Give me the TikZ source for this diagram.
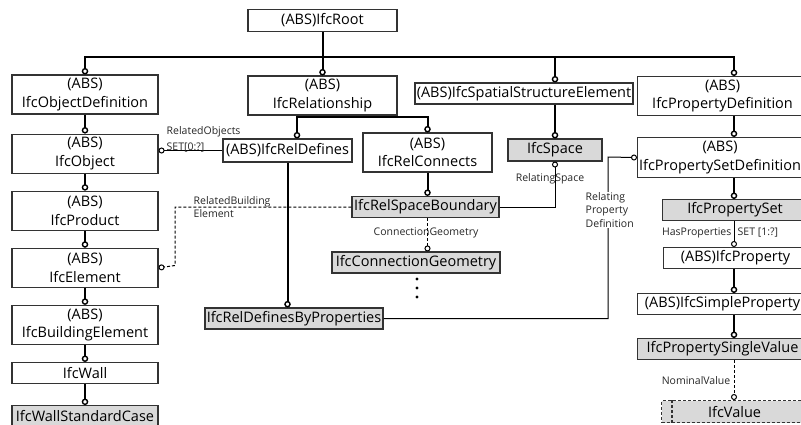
\documentclass[tikz,border=0pt]{standalone}
\usepackage{fontspec}
\setmainfont{Open Sans}
\usetikzlibrary{positioning,arrows.meta}

\begin{document}
\begin{tikzpicture}[x=1bp, y=-1bp, node distance=17bp,
    entity/.style={draw=black!80, line width=1.1bp, inner sep=1bp, align=center,
      font={\fontsize{14.5bp}{18.5bp}\selectfont}, minimum height=21bp},
    twoline/.style={entity, minimum height=39bp},
    leftcol/.style={minimum width=146bp},
    concrete/.style={fill=black!15},
    subtype/.style={line width=2bp, -{Circle[open,length=6.5bp,width=6.5bp,line width=1.4bp]}},
    attrib/.style={line width=1bp, -{Circle[open,length=6bp,width=6bp,line width=1bp]}},
    optional/.style={attrib, dash pattern=on 3bp off 2bp},
    role/.style={font={\fontsize{10.5bp}{13.5bp}\selectfont}, text=black!85, inner sep=0.5bp, align=left}]

    \useasboundingbox (0,0) rectangle (801,424);
    \clip (0,0) rectangle (801,424);

    % entities
    \node (root) [entity, minimum width=149bp, minimum height=22bp] at (322.5,20.5) {(ABS)IfcRoot};
    \node (objectDefinition) [twoline, leftcol] at (85,94.5) {(ABS)\\IfcObjectDefinition};
    \node (object) [twoline, leftcol, below=19bp of objectDefinition] {(ABS)\\IfcObject};
    \node (product) [twoline, leftcol, below=of object] {(ABS)\\IfcProduct};
    \node (element) [twoline, leftcol, below=of product] {(ABS)\\IfcElement};
    \node (buildingElement) [twoline, leftcol, below=of element] {(ABS)\\IfcBuildingElement};
    \node (wall) [entity, leftcol, below=of buildingElement] {IfcWall};
    \node (wallStandardCase) [entity, leftcol, concrete, below=21bp of wall] {IfcWallStandardCase};

    \node (relationship) [twoline, minimum width=149bp] at (322.5,95.5) {(ABS)\\IfcRelationship};
    \node (relDefines) [entity, minimum width=129bp, minimum height=23bp] at (287.5,150.5) {(ABS)IfcRelDefines};
    \node (relConnects) [twoline, minimum width=129bp] at (427.5,152.5) {(ABS)\\IfcRelConnects};
    \node (relSpaceBoundary) [entity, concrete, minimum width=147bp] at (425.5,207) {IfcRelSpaceBoundary};
    \node (connectionGeometry) [entity, concrete, minimum width=168bp] at (416,262.5) {IfcConnectionGeometry};
    \node (relDefinesByProperties) [entity, concrete, minimum width=178bp] at (294,318.5) {IfcRelDefinesByProperties};

    \node (spatialStructure) [entity, minimum width=218bp] at (524,93.5) {(ABS)IfcSpatialStructureElement};
    \node (space) [entity, concrete, minimum width=94bp, minimum height=22bp] at (555,150) {IfcSpace};

    \node (propertyDefinition) [twoline, anchor=north west, minimum width=170bp] at (637,76) {(ABS)\\IfcPropertyDefinition};
    \node (propertySetDefinition) [twoline, anchor=north west, minimum width=165bp, minimum height=40bp] at (637,137) {(ABS)\\IfcPropertySetDefinition};
    \node (propertySet) [entity, concrete, anchor=north west, minimum width=145bp] at (662,199) {IfcPropertySet};
    \node (property) [entity, anchor=north west, minimum width=144bp] at (663,247) {(ABS)IfcProperty};
    \node (simpleProperty) [entity, anchor=north west, minimum width=170bp] at (637,293) {(ABS)IfcSimpleProperty};
    \node (propertySingleValue) [entity, concrete, anchor=north west, minimum width=170bp] at (637,338) {IfcPropertySingleValue};
    \node (value) [entity, concrete, dash pattern=on 3bp off 2bp, anchor=north west, minimum width=146bp, minimum height=22bp] at (661,400) {IfcValue};
    \draw[draw=black!80, line width=1.1bp, dash pattern=on 3bp off 2bp]
      ([xshift=11bp]value.north west) -- ([xshift=11bp]value.south west);

    \coordinate (bus) at (0,57);
    \coordinate (colR) at (734,0);
    \coordinate (relSplit) at (297,117);
    \coordinate (elemBend) at (175,265.5);
    \coordinate (propBend) at (608,157);

    % subtypes
    \draw[line width=2bp] (root.south) -- (root.south |- bus);
    \draw[subtype] (colR |- bus) -- (objectDefinition.north |- bus) -- (objectDefinition);
    \draw[subtype] (objectDefinition.north |- bus) -- (colR |- bus) -- (colR |- propertyDefinition.north);
    \draw[subtype] (root.south |- bus) -- (relationship);
    \draw[subtype] (space |- bus) -- (space |- spatialStructure.north);

    \draw[subtype] (objectDefinition) -- (object);
    \draw[subtype] (object) -- (product);
    \draw[subtype] (product) -- (element);
    \draw[subtype] (element) -- (buildingElement);
    \draw[subtype] (buildingElement) -- (wall);
    \draw[subtype] (wall) -- (wallStandardCase);

    \draw[subtype] (relationship.south -| relSplit) -- (relDefines.north -| relSplit);
    \draw[subtype] (relationship.south -| relSplit) -- (relSplit) -| (relConnects.north);
    \draw[subtype] (relConnects.south) -- (relConnects.south |- relSpaceBoundary.north);
    \draw[subtype] (relDefines.south) -- (relDefines.south |- relDefinesByProperties.north);
    \draw[subtype] (spatialStructure.south -| space) -- (space);

    \draw[subtype] (colR |- propertyDefinition.south) -- (colR |- propertySetDefinition.north);
    \draw[subtype] (colR |- propertySetDefinition.south) -- (colR |- propertySet.north);
    \draw[subtype] (colR |- property.south) -- (colR |- simpleProperty.north);
    \draw[subtype] (colR |- simpleProperty.south) -- (colR |- propertySingleValue.north);

    % attributes
    \draw[attrib] (relDefines.west) -- (relDefines.west -| object.east);
    \node (relatedObjects) [role, anchor=west] at (166,139) {RelatedObjects\\[2.5bp]SET[0:?]};

    \draw[optional] (relSpaceBoundary.west) -| (elemBend) -- (element.east);
    \node (relatedBuilding) [role, anchor=west] at (193,207) {RelatedBuilding\\Element};

    \draw[attrib] (relSpaceBoundary.east) -| (space.south);
    \node (relatingSpace) [role] at (550,179) {RelatingSpace};

    \draw[optional] (relSpaceBoundary.south -| relConnects) -- (connectionGeometry.north -| relConnects);
    \node (connGeomLabel) [role] at (426,233) {ConnectionGeometry};
    \foreach \y in {279,288,297}
      \fill (417,\y) circle (1.6bp);

    \draw[attrib] (relDefinesByProperties.east) -| (propBend) -- (propertySetDefinition.west);
    \node (relatingProperty) [role, fill=white, anchor=west] at (585,210) {Relating\\Property\\Definition};

    \draw[attrib] (colR |- propertySet.south) -- (colR |- property.north);
    \node (hasProperties) [role, anchor=east] at (732,233) {HasProperties};
    \node (hasPropertiesSet) [role, anchor=west] at (737,233) {SET [1:?]};

    \draw[optional] (colR |- propertySingleValue.south) -- (colR |- value.north);
    \node (nominalValue) [role, anchor=east] at (731,381) {NominalValue};
\end{tikzpicture}
\end{document}
